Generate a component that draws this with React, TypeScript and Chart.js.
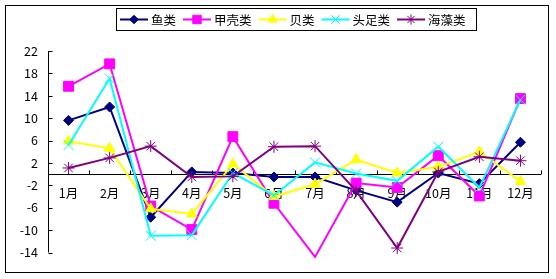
import React, { useEffect, useRef } from 'react';
import { Chart, registerables } from 'chart.js';
import { drawPoint } from 'chart.js/helpers';

Chart.register(...registerables);

const months = ['1月', '2月', '3月', '4月', '5月', '6月', '7月', '8月', '9月', '10月', '11月', '12月'];
const seriesNames = ['鱼类', '甲壳类', '贝类', '头足类', '海藻类'];
const fish = [9.6, 12.0, -7.7, 0.4, 0.2, -0.5, -0.5, -2.9, -5.0, 0.2, -1.7, 5.7];
const crustacean = [15.7, 19.7, -5.7, -9.9, 6.7, -5.2, -14.8, -1.6, -2.4, 3.3, -3.9, 13.5];
const shellfish = [5.9, 4.6, -6.2, -7.1, 1.8, -4.0, -1.8, 2.6, 0.2, 1.3, 4.0, -1.3];
const cephalopod = [5.2, 17.1, -11.0, -10.9, 0.2, -3.8, 2.1, 0.1, -1.2, 4.9, -2.4, 13.3];
const seaweed = [1.1, 2.9, 5.0, -0.5, -0.4, 4.9, 5.0, -3.0, -13.2, 0.4, 3.1, 2.4];
const yTicks = [-14, -10, -6, -2, 2, 6, 10, 14, 18, 22];

const Y_MIN = -14;
const Y_MAX = 22;
const FONT_FAMILY = '"Noto Sans CJK SC", "Noto Sans", sans-serif';
const FONT_SIZE = 12.5;

const seriesStyles = [
  { color: '#000080', pointStyle: 'rectRot', radius: 5 },
  { color: '#FF00FF', pointStyle: 'rect', radius: 7 },
  { color: '#FFFF00', pointStyle: 'triangle', radius: 6 },
  { color: '#00FFFF', pointStyle: 'crossRot', radius: 7 },
  { color: '#800080', pointStyle: 'star', radius: 6 },
];

const seriesData = [fish, crustacean, shellfish, cephalopod, seaweed];

const frameAndAxesPlugin = {
  id: 'frameAndAxes',
  beforeDraw(chart: any) {
    const ctx = chart.ctx;
    ctx.save();
    ctx.fillStyle = '#fff';
    ctx.fillRect(0, 0, chart.width, chart.height);
    ctx.strokeStyle = '#000';
    ctx.lineWidth = 1;
    ctx.strokeRect(5.5, 5.5, 543, 267);
    ctx.restore();
  },
  beforeDatasetsDraw(chart: any) {
    const { ctx, chartArea, scales } = chart;
    const xs = scales.x;
    const ys = scales.y;
    ctx.save();
    ctx.strokeStyle = '#000';
    ctx.lineWidth = 1;
    const left = Math.round(chartArea.left) + 0.5;
    const y0 = Math.round(ys.getPixelForValue(0)) + 0.5;
    ctx.beginPath();
    ctx.moveTo(left, ys.getPixelForValue(Y_MAX));
    ctx.lineTo(left, ys.getPixelForValue(Y_MIN));
    yTicks.forEach((v) => {
      const py = Math.round(ys.getPixelForValue(v)) + 0.5;
      ctx.moveTo(left, py);
      ctx.lineTo(left + 4, py);
    });
    ctx.moveTo(left, y0);
    ctx.lineTo(chartArea.right, y0);
    for (let i = 0; i <= months.length; i++) {
      const px = Math.round(xs.getPixelForValue(i - 0.5)) + 0.5;
      ctx.moveTo(px, y0);
      ctx.lineTo(px, y0 - 4);
    }
    ctx.stroke();
    ctx.restore();
  },
};

const boxLegendPlugin = {
  id: 'boxLegend',
  afterDraw(chart: any) {
    const ctx = chart.ctx;
    ctx.save();
    ctx.strokeStyle = '#000';
    ctx.lineWidth = 1;
    const bx = 116.5;
    const by = 8.5;
    const bw = 360;
    const bh = 22;
    ctx.strokeRect(bx, by, bw, bh);
    ctx.font = `${FONT_SIZE}px ${FONT_FAMILY}`;
    ctx.textBaseline = 'middle';
    ctx.textAlign = 'left';
    const cy = by + bh / 2;
    let x = bx + 3.5;
    seriesNames.forEach((name, i) => {
      const st = seriesStyles[i];
      const lineLen = 28;
      ctx.strokeStyle = st.color;
      ctx.lineWidth = 2;
      ctx.beginPath();
      ctx.moveTo(x, cy);
      ctx.lineTo(x + lineLen, cy);
      ctx.stroke();
      ctx.fillStyle = st.color;
      ctx.strokeStyle = st.color;
      ctx.lineWidth = 1;
      drawPoint(ctx, { pointStyle: st.pointStyle, radius: st.radius * 0.85, rotation: 0, borderWidth: 1 } as any, x + lineLen / 2, cy);
      ctx.fillStyle = '#000';
      const tx = x + lineLen + 3;
      ctx.fillText(name, tx, cy + 0.5);
      x = tx + ctx.measureText(name).width + 7;
    });
    ctx.restore();
  },
};

export default function App() {
  const canvasRef = useRef<HTMLCanvasElement | null>(null);

  useEffect(() => {
    if (!canvasRef.current) return;
    const datasets = seriesNames.map((name, i) => {
      const st = seriesStyles[i];
      return {
        label: name,
        data: seriesData[i],
        borderColor: st.color,
        backgroundColor: st.color,
        borderWidth: 2,
        pointStyle: st.pointStyle as any,
        pointRadius: (c: any) => (c.raw < Y_MIN || c.raw > Y_MAX ? 0 : st.radius),
        pointBackgroundColor: st.color,
        pointBorderColor: st.color,
        pointBorderWidth: 1,
        tension: 0,
        fill: false,
        clip: false as any,
        order: seriesNames.length - i,
      };
    });
    const chart = new Chart(canvasRef.current, {
      type: 'line',
      data: { labels: months, datasets },
      plugins: [frameAndAxesPlugin, boxLegendPlugin],
      options: {
        animation: false,
        responsive: false,
        maintainAspectRatio: false,
        devicePixelRatio: 1,
        layout: { padding: { left: 0, right: 15, top: 51, bottom: 26.5 } },
        plugins: {
          legend: { display: false },
          title: { display: false },
          tooltip: { enabled: false },
        },
        scales: {
          x: {
            type: 'category',
            position: { y: 0 } as any,
            offset: true,
            grid: { display: false, drawTicks: false },
            border: { display: false },
            ticks: {
              color: '#000',
              padding: 12,
              maxRotation: 0,
              autoSkip: false,
              font: { family: FONT_FAMILY, size: FONT_SIZE },
            },
          },
          y: {
            type: 'linear',
            min: Y_MIN,
            max: Y_MAX,
            grid: { display: false, drawTicks: false },
            border: { display: false },
            afterBuildTicks: (scale: any) => {
              scale.ticks = yTicks.map((v) => ({ value: v }));
            },
            afterFit: (scale: any) => {
              scale.width = 48;
            },
            ticks: {
              color: '#000',
              padding: 10,
              font: { family: FONT_FAMILY, size: FONT_SIZE },
            },
          },
        },
      },
    });
    return () => chart.destroy();
  }, []);

  return (
    <div style={{ position: 'absolute', left: 0, top: 0, width: 556, height: 279, background: '#fff' }}>
      <canvas ref={canvasRef} width={556} height={279} style={{ display: 'block', width: 556, height: 279 }} />
    </div>
  );
}
